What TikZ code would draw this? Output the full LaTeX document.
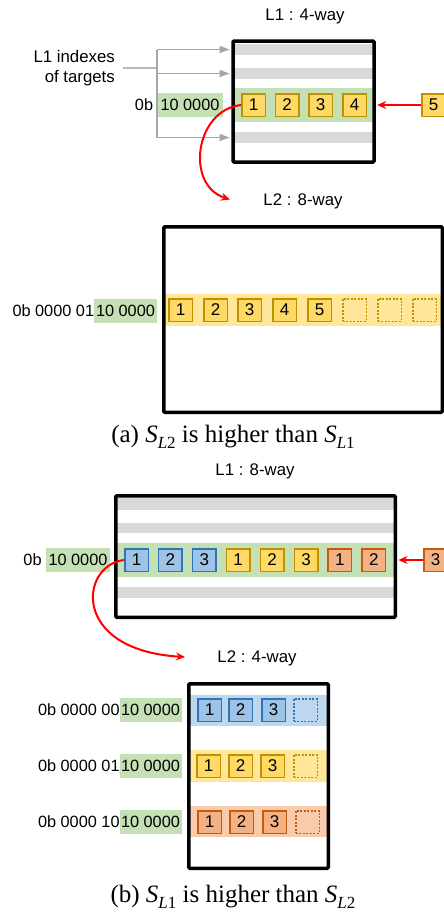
\documentclass[tikz,border=0pt]{standalone}
\usepackage{fontspec}
\setmainfont{Liberation Serif}
\setsansfont{Liberation Sans}
\usetikzlibrary{arrows.meta}

\definecolor{yfill}{HTML}{FFD966}
\definecolor{yline}{HTML}{BF9000}
\definecolor{yrow}{HTML}{FFE699}
\definecolor{bfill}{HTML}{9DC3E6}
\definecolor{bline}{HTML}{2E75B6}
\definecolor{brow}{HTML}{BDD7EE}
\definecolor{ofill}{HTML}{F4B183}
\definecolor{oline}{HTML}{C55A11}
\definecolor{orow}{HTML}{F8CBAD}
\definecolor{gpale}{HTML}{C5E0B4}
\definecolor{stripe}{HTML}{D9D9D9}
\definecolor{idxgrey}{HTML}{A6A6A6}
\definecolor{hotred}{HTML}{FF0000}

\newcommand{\titlefont}{\sffamily\fontsize{16.8}{19.5}\selectfont}
\newcommand{\addrfont}{\sffamily\fontsize{16.3}{18}\selectfont}
\newcommand{\cellfont}{\sffamily\fontsize{17}{19}\selectfont}
\newcommand{\capfont}{\rmfamily\fontsize{25}{28}\selectfont}
\newcommand{\capsym}[1]{{\itshape S}\raisebox{-0.25em}{\fontsize{17}{19}\selectfont\itshape L\upshape #1}}

\tikzset{
  cellbox/.style={draw, line width=1.5pt, minimum width=23.5pt, minimum height=22.5pt,
    inner sep=0pt, font=\cellfont},
  ycell/.style={cellbox, fill=yfill, draw=yline},
  bcell/.style={cellbox, fill=bfill, draw=bline},
  ocell/.style={cellbox, fill=ofill, draw=oline},
  ghostbox/.style={cellbox, dash pattern=on 1.8pt off 1.7pt},
  yghost/.style={ghostbox, fill=yrow, draw=yline},
  bghost/.style={ghostbox, fill=brow, draw=bline},
  oghost/.style={ghostbox, fill=orow, draw=oline},
  cachebox/.style={draw, line width=3.5pt, rounded corners=1pt, inner sep=0pt},
  titlenode/.style={font=\titlefont, inner sep=0pt},
  setidx/.style={fill=gpale, font=\addrfont, inner xsep=1pt, inner ysep=0pt,
    minimum height=24pt},
  addrhead/.style={font=\addrfont, inner sep=0pt, anchor=east},
  capnode/.style={font=\capfont, inner sep=0pt},
  gline/.style={draw=idxgrey, line width=1.3pt},
  garrow/.style={gline, -{Triangle[length=10pt,width=7pt]}, shorten >=1.6pt},
  redarrow/.style={draw=hotred, line width=2pt, -{Stealth[length=9pt,width=8pt]}},
}

\begin{document}
\begin{tikzpicture}[x=1pt,y=-1pt]
\useasboundingbox (0,0) rectangle (444,913);

% ---------------- (a) L1 : 4-way ----------------
\node[titlenode] (l1a) at (305,16) {L1 : 4-way};
\fill[stripe] (233,44) rectangle (374,55);
\fill[stripe] (233,68) rectangle (374,79);
\fill[gpale]  (233,88) rectangle (374,122);
\fill[stripe] (233,132) rectangle (374,143);
\node[cachebox, minimum width=141pt, minimum height=121pt] (c1a) at (303.5,101.5) {};

\node[ycell] (a1) at (253.5,105) {1};
\node[ycell] (a2) at (287,105) {2};
\node[ycell] (a3) at (320.5,105) {3};
\node[ycell] (a4) at (354.5,105) {4};
\node[ycell] (a5) at (433.5,105) {5};
\draw[redarrow, shorten >=1.5pt] (a5.west) -- (a5.west -| c1a.east);

% index lines feeding the sets
\node[font=\titlefont, align=right, inner sep=0pt, anchor=east] (idx) at (115,68)
  {L1 indexes\\of targets};
\coordinate (hub) at (157,68);
\coordinate (vtop) at (157,49.5);
\coordinate (vmid) at (157,73.5);
\coordinate (vbot) at (157,137.5);
\draw[gline, draw=idxgrey!80, line width=1.6pt] ([xshift=8pt]idx.east) -- (hub);
\draw[gline] (vtop) -- (vbot);
\draw[garrow] (vtop) -- (vtop -| c1a.west);
\draw[garrow] (vmid) -- (vmid -| c1a.west);
\draw[garrow] (vbot) -- (vbot -| c1a.west);

\node[setidx, minimum width=65pt] (ga) at (190,105) {10 0000};
\node[addrhead] (pa) at ([xshift=-4pt]ga.west) {0b};

% ---------------- (a) L2 : 8-way ----------------
\coordinate (tipA) at (230,199.5);
\draw[redarrow] (a1.west) .. controls (195,110) and (185,185) .. (tipA);
\node[titlenode] (l2a) at (303,201) {L2 : 8-way};
\fill[yrow] (164,294) rectangle (442,326);
\node[cachebox, minimum width=278.5pt, minimum height=185.5pt] (c2a) at (303,319.5) {};
\node[ycell] (m1) at (180.5,310) {1};
\node[ycell] (m2) at (215.5,310) {2};
\node[ycell] (m3) at (249.5,310) {3};
\node[ycell] (m4) at (284.5,310) {4};
\node[ycell] (m5) at (319.5,310) {5};
\node[yghost] (m6) at (354.5,310) {};
\node[yghost] (m7) at (389.5,310) {};
\node[yghost] (m8) at (424.5,310) {};
\node[setidx, minimum width=63pt] (gm) at (125.5,310.5) {10 0000};
\node[addrhead] (pm) at ([xshift=0.5pt]gm.west) {0b 0000 01};

\node[capnode] (capa) at (233,437) {(a) \capsym{2} is higher than \capsym{1}};

% ---------------- (b) L1 : 8-way ----------------
\node[titlenode] (l1b) at (255,471) {L1 : 8-way};
\fill[stripe] (117,498) rectangle (394,510);
\fill[stripe] (117,523) rectangle (394,533);
\fill[gpale]  (117,543) rectangle (394,577);
\fill[stripe] (117,587) rectangle (394,598);
\node[cachebox, minimum width=279.5pt, minimum height=121.5pt] (c1b) at (255.5,556.5) {};
\node[bcell] (b1) at (136.5,560) {1};
\node[bcell] (b2) at (170.4,560) {2};
\node[bcell] (b3) at (204.3,560) {3};
\node[ycell] (b4) at (238.2,560) {1};
\node[ycell] (b5) at (272.1,560) {2};
\node[ycell] (b6) at (306,560) {3};
\node[ocell] (b7) at (339.9,560) {1};
\node[ocell] (b8) at (373.8,560) {2};
\node[ocell] (b9) at (435.5,560) {3};
\draw[redarrow, shorten >=1.5pt] (b9.west) -- (b9.west -| c1b.east);
\node[setidx, minimum width=64pt] (gb) at (78,560) {10 0000};
\node[addrhead] (pb) at ([xshift=-4pt]gb.west) {0b};

% ---------------- (b) L2 : 4-way ----------------
\coordinate (tipB) at (185,657);
\draw[redarrow] (b1.west) .. controls (80,565) and (70,650) .. (tipB);
\node[titlenode] (l2b) at (257,658) {L2 : 4-way};
\fill[brow] (189,695) rectangle (327,726);
\fill[yrow] (189,750) rectangle (327,782);
\fill[orow] (189,806) rectangle (327,837);
\node[cachebox, minimum width=139.5pt, minimum height=184.5pt] (c2b) at (258.5,776) {};

\node[bcell] (u1) at (209.5,710) {1};
\node[bcell] (u2) at (240.5,710) {2};
\node[bcell] (u3) at (273.5,710) {3};
\node[bghost] (u4) at (305.5,710) {};
\node[ycell] (v1) at (208.5,766) {1};
\node[ycell] (v2) at (240.5,766) {2};
\node[ycell] (v3) at (272.5,766) {3};
\node[yghost] (v4) at (305.5,766) {};
\node[ocell] (w1) at (209.5,822) {1};
\node[ocell] (w2) at (241.5,822) {2};
\node[ocell] (w3) at (274.5,822) {3};
\node[oghost] (w4) at (307.5,822) {};

\node[setidx, minimum width=62pt] (gu) at (150.5,710) {10 0000};
\node[addrhead] (pu) at ([xshift=0.5pt]gu.west) {0b 0000 00};
\node[setidx, minimum width=62pt] (gv) at (150.5,766) {10 0000};
\node[addrhead] (pv) at ([xshift=0.5pt]gv.west) {0b 0000 01};
\node[setidx, minimum width=62pt] (gw) at (150.5,822) {10 0000};
\node[addrhead] (pw) at ([xshift=0.5pt]gw.west) {0b 0000 10};

\node[capnode] (capb) at (233,897) {(b) \capsym{1} is higher than \capsym{2}};
\end{tikzpicture}
\end{document}
